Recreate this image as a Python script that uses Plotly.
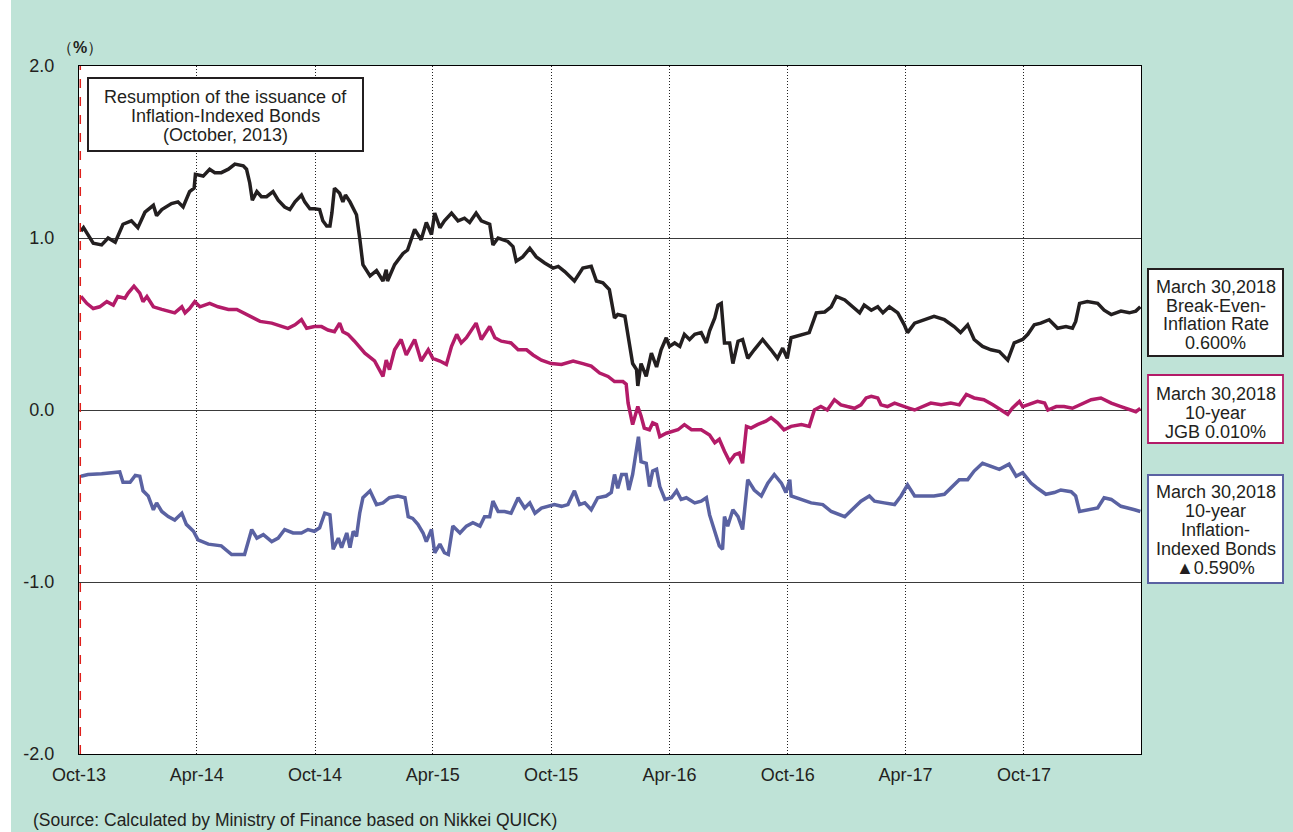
import plotly.graph_objects as go

# ---------------- data ----------------
bei_dates = ["2013-10-04","2013-10-08","2013-10-23","2013-11-05","2013-11-15","2013-11-26","2013-12-08","2013-12-21","2013-12-31",
"2014-01-11","2014-01-24","2014-01-29","2014-02-06","2014-02-21","2014-03-03","2014-03-11","2014-03-21","2014-03-28","2014-03-30",
"2014-04-11","2014-04-21","2014-04-29","2014-05-09","2014-05-20","2014-05-30","2014-06-12","2014-06-17","2014-06-22","2014-06-26",
"2014-07-03","2014-07-10","2014-07-18","2014-07-28","2014-08-05","2014-08-15","2014-08-23","2014-08-31","2014-09-10","2014-09-15",
"2014-09-23","2014-09-30","2014-10-08","2014-10-13","2014-10-19","2014-10-24","2014-10-27","2014-10-31","2014-11-08","2014-11-13",
"2014-11-17","2014-11-24","2014-12-04","2014-12-09","2014-12-14","2014-12-25","2015-01-04","2015-01-14","2015-01-19","2015-01-21",
"2015-02-01","2015-02-14","2015-02-21","2015-03-04","2015-03-14","2015-03-22","2015-03-30","2015-04-04","2015-04-12","2015-04-19",
"2015-04-30","2015-05-10","2015-05-20","2015-05-28","2015-06-07","2015-06-15","2015-06-28","2015-07-03","2015-07-11","2015-07-26",
"2015-08-03","2015-08-08","2015-08-18","2015-08-29","2015-09-08","2015-09-21","2015-10-04","2015-10-12","2015-10-22","2015-11-06",
"2015-11-19","2015-12-02","2015-12-10","2015-12-20","2015-12-30","2016-01-07","2016-01-12","2016-01-23","2016-01-28","2016-02-04",
"2016-02-10","2016-02-12","2016-02-17","2016-02-25","2016-03-04","2016-03-12","2016-03-19","2016-03-27","2016-04-01","2016-04-09",
"2016-04-17","2016-04-24","2016-05-02","2016-05-10","2016-05-20","2016-05-28","2016-06-02","2016-06-10","2016-06-15","2016-06-20",
"2016-06-25","2016-07-03","2016-07-08","2016-07-16","2016-07-23","2016-07-31","2016-08-10","2016-08-23","2016-09-05","2016-09-15",
"2016-09-23","2016-09-30","2016-10-06","2016-10-22","2016-11-03","2016-11-14","2016-11-27","2016-12-07","2016-12-15","2016-12-28",
"2017-01-07","2017-01-20","2017-01-27","2017-02-07","2017-02-17","2017-02-25","2017-03-07","2017-03-15","2017-03-20","2017-03-30",
"2017-04-04","2017-04-15","2017-04-30","2017-05-15","2017-05-31","2017-06-15","2017-06-25","2017-07-06","2017-07-16","2017-07-29",
"2017-08-11","2017-08-24","2017-09-06","2017-09-16","2017-09-29","2017-10-07","2017-10-17","2017-10-27","2017-11-09","2017-11-22",
"2017-12-05","2017-12-15","2017-12-20","2017-12-26","2018-01-07","2018-01-23","2018-02-02","2018-02-13","2018-02-28","2018-03-13",
"2018-03-23","2018-03-30"]
bei_values = [1.04,1.06,0.97,0.96,1.00,0.975,1.08,1.10,1.06,
1.15,1.19,1.13,1.165,1.20,1.21,1.18,1.27,1.29,1.37,
1.36,1.40,1.38,1.38,1.40,1.43,1.42,1.40,1.32,1.22,
1.27,1.24,1.24,1.27,1.22,1.18,1.165,1.21,1.25,1.21,
1.17,1.17,1.165,1.10,1.07,1.07,1.145,1.29,1.26,1.21,
1.25,1.21,1.135,1.00,0.845,0.78,0.81,0.75,0.815,0.75,
0.845,0.91,0.93,1.05,0.99,1.09,1.02,1.145,1.06,1.10,
1.145,1.10,1.115,1.09,1.145,1.10,1.08,0.96,1.00,0.98,
0.95,0.865,0.89,0.94,0.89,0.855,0.825,0.835,0.805,0.75,
0.825,0.835,0.75,0.74,0.70,0.535,0.555,0.545,0.43,0.27,
0.235,0.14,0.27,0.195,0.33,0.25,0.35,0.42,0.37,0.39,
0.37,0.44,0.41,0.44,0.45,0.39,0.46,0.535,0.61,0.62,
0.39,0.39,0.27,0.40,0.41,0.30,0.35,0.41,0.35,0.30,
0.36,0.30,0.42,0.44,0.45,0.565,0.57,0.60,0.66,0.64,
0.61,0.565,0.61,0.58,0.60,0.565,0.60,0.58,0.565,0.495,
0.45,0.505,0.525,0.545,0.525,0.485,0.45,0.495,0.41,0.37,
0.35,0.34,0.29,0.39,0.41,0.44,0.495,0.505,0.525,0.475,
0.485,0.475,0.515,0.62,0.63,0.62,0.58,0.555,0.575,0.565,
0.575,0.60]

jgb_dates = ["2013-10-04","2013-10-13","2013-10-23","2013-11-02","2013-11-13","2013-11-23","2013-11-30","2013-12-11","2013-12-16",
"2013-12-25","2014-01-03","2014-01-08","2014-01-14","2014-01-24","2014-02-06","2014-02-16","2014-02-26","2014-03-09","2014-03-14",
"2014-03-21","2014-03-29","2014-04-06","2014-04-21","2014-05-04","2014-05-20","2014-06-02","2014-06-12","2014-06-27","2014-07-08",
"2014-07-26","2014-08-10","2014-08-20","2014-08-31","2014-09-10","2014-09-18","2014-09-30","2014-10-11","2014-10-21","2014-10-31",
"2014-11-08","2014-11-13","2014-11-21","2014-12-01","2014-12-17","2015-01-01","2015-01-14","2015-01-19","2015-01-24","2015-02-01",
"2015-02-11","2015-02-19","2015-02-27","2015-03-04","2015-03-14","2015-03-25","2015-04-01","2015-04-12","2015-04-22","2015-04-30",
"2015-05-08","2015-05-15","2015-05-23","2015-05-31","2015-06-07","2015-06-15","2015-06-28","2015-07-06","2015-07-16","2015-07-31",
"2015-08-11","2015-08-24","2015-09-03","2015-09-16","2015-10-01","2015-10-17","2015-11-04","2015-11-19","2015-12-02","2015-12-15",
"2015-12-28","2016-01-07","2016-01-20","2016-01-25","2016-01-28","2016-02-04","2016-02-12","2016-02-17","2016-02-22","2016-03-01",
"2016-03-06","2016-03-12","2016-03-17","2016-03-27","2016-04-06","2016-04-14","2016-04-24","2016-05-05","2016-05-20","2016-06-02",
"2016-06-10","2016-06-17","2016-06-25","2016-07-03","2016-07-11","2016-07-18","2016-07-23","2016-07-29","2016-08-05","2016-08-15",
"2016-08-28","2016-09-05","2016-09-15","2016-09-25","2016-10-06","2016-10-22","2016-11-03","2016-11-11","2016-11-21","2016-12-01",
"2016-12-12","2016-12-22","2017-01-01","2017-01-12","2017-01-22","2017-01-30","2017-02-07","2017-02-17","2017-02-22","2017-03-04",
"2017-03-15","2017-03-28","2017-04-07","2017-04-15","2017-04-28","2017-05-10","2017-05-26","2017-06-10","2017-06-23","2017-07-04",
"2017-07-16","2017-07-31","2017-08-14","2017-08-27","2017-09-06","2017-09-13","2017-09-24","2017-09-29","2017-10-07","2017-10-22",
"2017-11-02","2017-11-07","2017-11-20","2017-12-02","2017-12-15","2017-12-28","2018-01-13","2018-01-28","2018-02-13","2018-02-28",
"2018-03-15","2018-03-23","2018-03-30"]
jgb_values = [0.66,0.62,0.59,0.60,0.63,0.61,0.66,0.65,0.68,
0.72,0.68,0.63,0.66,0.60,0.585,0.575,0.565,0.60,0.565,
0.59,0.63,0.60,0.62,0.60,0.585,0.585,0.565,0.535,0.515,
0.505,0.485,0.475,0.495,0.525,0.475,0.485,0.485,0.465,0.455,
0.505,0.455,0.44,0.40,0.33,0.285,0.195,0.29,0.235,0.35,
0.41,0.32,0.37,0.41,0.285,0.35,0.30,0.285,0.265,0.37,
0.44,0.39,0.42,0.47,0.505,0.41,0.485,0.42,0.40,0.39,
0.35,0.35,0.32,0.29,0.27,0.265,0.285,0.27,0.255,0.215,
0.195,0.165,0.165,0.15,0.04,-0.085,0.02,-0.035,-0.105,-0.115,
-0.075,-0.085,-0.155,-0.135,-0.125,-0.115,-0.085,-0.115,-0.115,-0.145,
-0.19,-0.17,-0.24,-0.30,-0.26,-0.25,-0.31,-0.095,-0.105,-0.085,
-0.065,-0.045,-0.075,-0.115,-0.095,-0.085,-0.095,0.0,0.02,0.0,
0.06,0.03,0.02,0.01,0.03,0.07,0.08,0.07,0.03,0.02,
0.04,0.02,0.01,0.0,0.02,0.04,0.03,0.04,0.03,0.09,
0.07,0.06,0.03,0.0,-0.025,0.01,0.05,0.02,0.03,0.05,
0.04,0.0,0.02,0.02,0.01,0.03,0.06,0.07,0.04,0.02,
0.0,-0.01,0.01]

iib_dates = ["2013-10-04","2013-10-15","2013-11-05","2013-11-20","2013-12-03","2013-12-08","2013-12-19","2013-12-27","2014-01-03",
"2014-01-08","2014-01-16","2014-01-24","2014-01-29","2014-02-06","2014-02-16","2014-02-26","2014-03-09","2014-03-16","2014-03-27",
"2014-04-03","2014-04-19","2014-05-09","2014-05-25","2014-06-14","2014-06-25","2014-07-03","2014-07-13","2014-07-26","2014-08-05",
"2014-08-15","2014-08-28","2014-09-10","2014-09-20","2014-09-30","2014-10-08","2014-10-16","2014-10-24","2014-10-29","2014-11-06",
"2014-11-11","2014-11-19","2014-11-24","2014-11-29","2014-12-04","2014-12-09","2014-12-14","2014-12-25","2015-01-04","2015-01-14",
"2015-01-24","2015-02-06","2015-02-17","2015-02-22","2015-03-01","2015-03-09","2015-03-17","2015-03-22","2015-03-30","2015-04-04",
"2015-04-12","2015-04-19","2015-04-25","2015-05-02","2015-05-13","2015-05-23","2015-06-02","2015-06-13","2015-06-20","2015-06-28",
"2015-07-03","2015-07-11","2015-07-21","2015-07-31","2015-08-11","2015-08-21","2015-08-29","2015-09-06","2015-09-16","2015-09-26",
"2015-10-06","2015-10-17","2015-10-27","2015-11-06","2015-11-14","2015-11-22","2015-12-02","2015-12-12","2015-12-25","2016-01-02",
"2016-01-07","2016-01-12","2016-01-18","2016-01-25","2016-01-29","2016-02-04","2016-02-10","2016-02-13","2016-02-17","2016-02-25",
"2016-03-01","2016-03-06","2016-03-12","2016-03-17","2016-03-25","2016-04-04","2016-04-12","2016-04-19","2016-04-27","2016-05-10",
"2016-05-20","2016-05-28","2016-06-02","2016-06-10","2016-06-17","2016-06-22","2016-06-25","2016-06-30","2016-07-08","2016-07-16",
"2016-07-23","2016-07-31","2016-08-10","2016-08-21","2016-08-31","2016-09-10","2016-09-21","2016-09-28","2016-10-04","2016-10-06",
"2016-10-22","2016-11-06","2016-11-24","2016-12-07","2016-12-28","2017-01-09","2017-01-22","2017-02-04","2017-02-12","2017-02-27",
"2017-03-15","2017-03-25","2017-04-04","2017-04-15","2017-04-30","2017-05-15","2017-05-31","2017-06-10","2017-06-23","2017-07-06",
"2017-07-16","2017-07-29","2017-08-11","2017-08-24","2017-09-08","2017-09-19","2017-09-29","2017-10-12","2017-10-22","2017-11-04",
"2017-11-17","2017-11-27","2017-12-13","2017-12-20","2017-12-26","2018-01-07","2018-01-23","2018-02-02","2018-02-13","2018-02-28",
"2018-03-13","2018-03-21","2018-03-30"]
iib_values = [-0.385,-0.375,-0.37,-0.365,-0.36,-0.42,-0.42,-0.38,-0.385,
-0.47,-0.50,-0.58,-0.54,-0.59,-0.62,-0.64,-0.60,-0.665,-0.705,
-0.755,-0.78,-0.79,-0.84,-0.84,-0.695,-0.745,-0.725,-0.765,-0.745,
-0.695,-0.715,-0.715,-0.695,-0.705,-0.685,-0.60,-0.61,-0.81,-0.745,
-0.80,-0.715,-0.80,-0.705,-0.735,-0.60,-0.51,-0.47,-0.55,-0.54,
-0.51,-0.50,-0.51,-0.62,-0.63,-0.665,-0.715,-0.765,-0.695,-0.83,
-0.78,-0.83,-0.84,-0.675,-0.715,-0.675,-0.655,-0.675,-0.62,-0.62,
-0.53,-0.59,-0.59,-0.60,-0.51,-0.57,-0.54,-0.60,-0.57,-0.56,
-0.55,-0.56,-0.55,-0.47,-0.55,-0.54,-0.58,-0.51,-0.50,-0.48,
-0.375,-0.455,-0.375,-0.375,-0.465,-0.375,-0.23,-0.155,-0.30,-0.31,
-0.445,-0.355,-0.345,-0.445,-0.52,-0.51,-0.47,-0.52,-0.51,-0.54,
-0.53,-0.51,-0.61,-0.715,-0.79,-0.81,-0.62,-0.675,-0.58,-0.62,
-0.695,-0.405,-0.465,-0.50,-0.425,-0.375,-0.425,-0.48,-0.405,-0.50,
-0.52,-0.54,-0.55,-0.59,-0.62,-0.58,-0.53,-0.50,-0.53,-0.54,
-0.55,-0.50,-0.435,-0.50,-0.50,-0.50,-0.49,-0.455,-0.405,-0.405,
-0.355,-0.31,-0.33,-0.345,-0.315,-0.385,-0.365,-0.425,-0.455,-0.49,
-0.48,-0.465,-0.475,-0.50,-0.59,-0.58,-0.57,-0.51,-0.52,-0.56,
-0.57,-0.58,-0.59]

tick_dates = ["2013-10-01","2014-04-01","2014-10-01","2015-04-01","2015-10-01","2016-04-01",
              "2016-10-01","2017-04-01","2017-10-01"]
tick_labels = ["Oct-13","Apr-14","Oct-14","Apr-15","Oct-15","Apr-16","Oct-16","Apr-17","Oct-17"]
y_ticks = [-2, -1, 0, 1, 2]
y_tick_labels = ["-2.0", "-1.0", "0.0", "1.0", "2.0"]

note_lines = ["Resumption of the issuance of", "Inflation-Indexed Bonds", "(October, 2013)"]
bei_box_lines = ["March 30,2018", "Break-Even-", "Inflation Rate", "0.600%"]
jgb_box_lines = ["March 30,2018", "10-year", "JGB 0.010%"]
iib_box_lines = ["March 30,2018", "10-year", "Inflation-", "Indexed Bonds", "▲0.590%"]
source_text = "(Source: Calculated by Ministry of Finance based on Nikkei QUICK)"

# ---------------- styling ----------------
BG = "#bfe3d7"
TXT = "#231f20"
C_BEI = "#231f20"
C_JGB = "#b31b68"
C_IIB = "#5a62a2"
FONT = "Arial, Liberation Sans, Helvetica, sans-serif"
FS = 18
LW = 3.5

fig = go.Figure()
fig.add_trace(go.Scatter(x=iib_dates, y=iib_values, mode="lines",
                         line=dict(color=C_IIB, width=LW), name="10-year Inflation-Indexed Bonds"))
fig.add_trace(go.Scatter(x=jgb_dates, y=jgb_values, mode="lines",
                         line=dict(color=C_JGB, width=LW), name="10-year JGB"))
fig.add_trace(go.Scatter(x=bei_dates, y=bei_values, mode="lines",
                         line=dict(color=C_BEI, width=LW), name="Break-Even Inflation Rate"))

W, H = 1293, 832
L, R, T, B = 79, 152, 66, 78
pw, ph = W - L - R, H - T - B


def px_x(px):
    return (px - L) / pw


def px_y(py):
    return (H - B - py) / ph


shapes = [
    # white strip at far left of the picture
    dict(type="rect", xref="paper", yref="paper", x0=px_x(0), x1=px_x(11),
         y0=px_y(H), y1=px_y(0), fillcolor="white", line=dict(width=0), layer="below"),
    # red dashed marker for resumption of issuance
    dict(type="line", xref="x", yref="y", x0="2013-10-03", x1="2013-10-03", y0=-2, y1=2,
         line=dict(color="#e0201b", width=1.5, dash="dash")),
]

annotations = []


def add_box(x0, x1, y0, y1, color, bw, lines, line_ys):
    shapes.append(dict(type="rect", xref="paper", yref="paper",
                       x0=px_x(x0), x1=px_x(x1), y0=px_y(y1), y1=px_y(y0),
                       fillcolor="white", line=dict(color=color, width=bw), layer="above"))
    cx = (x0 + x1) / 2
    for txt, ly in zip(lines, line_ys):
        annotations.append(dict(text=txt, xref="paper", yref="paper", x=px_x(cx), y=px_y(ly),
                                xanchor="center", yanchor="middle", showarrow=False,
                                font=dict(size=FS, color=TXT, family=FONT)))


add_box(88, 363, 78, 151, TXT, 2, note_lines, [97, 116, 135])
add_box(1148, 1283, 269, 356, TXT, 2, bei_box_lines, [287, 305.5, 324, 343])
add_box(1148, 1283, 375, 443, C_JGB, 1.8, jgb_box_lines, [393.5, 412.5, 431.5])
add_box(1148, 1283, 475, 583, C_IIB, 2, iib_box_lines, [492, 511, 529.5, 548.5, 567.5])

annotations.append(dict(text="（<b>%</b>）", xref="paper", yref="paper", x=px_x(80), y=px_y(47),
                        xanchor="center", yanchor="middle", showarrow=False,
                        font=dict(size=16, color=TXT, family=FONT)))
annotations.append(dict(text=source_text, xref="paper", yref="paper", x=px_x(31), y=px_y(820),
                        xanchor="left", yanchor="middle", showarrow=False,
                        font=dict(size=17.5, color=TXT, family=FONT)))

fig.update_layout(
    width=W, height=H,
    margin=dict(l=L, r=R, t=T, b=B, pad=0),
    paper_bgcolor=BG, plot_bgcolor="white",
    showlegend=False,
    font=dict(family=FONT, color=TXT, size=FS),
    shapes=shapes, annotations=annotations,
    xaxis=dict(type="date", range=["2013-10-01", "2018-03-31"],
               tickvals=tick_dates, ticktext=tick_labels, ticks="",
               tickfont=dict(size=FS, color=TXT, family=FONT),
               showgrid=True, gridcolor="#222222", griddash="1px,2px", gridwidth=1,
               showline=True, linecolor="black", linewidth=1, mirror=True,
               zeroline=False, ticklabelstandoff=4),
    yaxis=dict(range=[-2, 2], tickvals=y_ticks, ticktext=y_tick_labels, ticks="",
               tickfont=dict(size=FS, color=TXT, family=FONT),
               showgrid=True, gridcolor="#3a3a3a", gridwidth=1,
               showline=True, linecolor="black", linewidth=1, mirror=True,
               zeroline=False, ticklabelstandoff=20),
)

fig.write_html("out.html", config={"displayModeBar": False},
               post_script="document.body.style.margin='0px';")
